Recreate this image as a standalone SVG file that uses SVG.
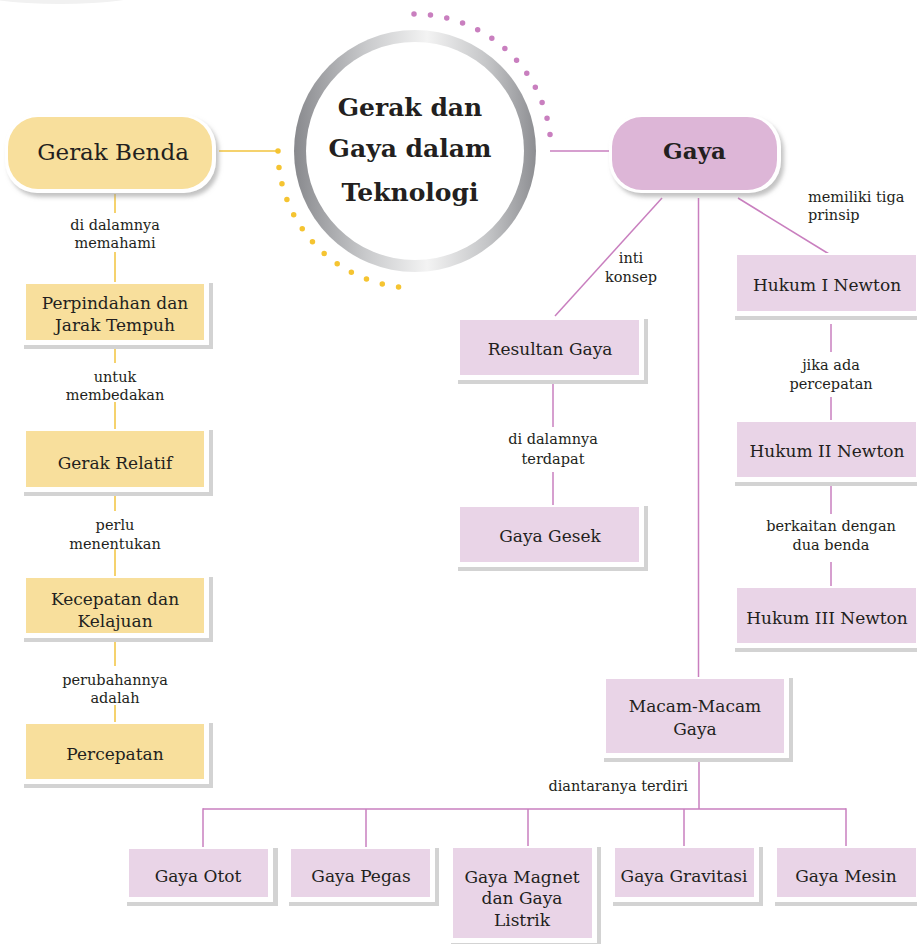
<svg xmlns="http://www.w3.org/2000/svg" width="917" height="944" viewBox="0 0 917 944">
<style>
  text { font-family: "DejaVu Serif", "Liberation Serif", serif; fill: #231f20; text-anchor: middle; }
  .box { font-size: 17px; }
  .lbl { font-size: 14.5px; }
  .big { font-size: 23px; }
  .bold { font-weight: bold; }
  .yl { stroke: #f2c33c; stroke-width: 1.5; fill: none; }
  .pl { stroke: #c97fbf; stroke-width: 1.5; fill: none; }
  .sh { fill: #d3d3d3; }
  .wh { fill: #ffffff; }
  .yf { fill: #f8df9c; }
  .pf { fill: #e9d4e7; }
</style>
<defs>
  <linearGradient id="ring" x1="0" y1="0" x2="1" y2="0">
    <stop offset="0" stop-color="#88898d"/>
    <stop offset="0.3" stop-color="#c9cacc"/>
    <stop offset="0.55" stop-color="#f3f3f3"/>
    <stop offset="0.8" stop-color="#c4c5c7"/>
    <stop offset="1" stop-color="#8d8e92"/>
  </linearGradient>
  <filter id="ds" x="-20%" y="-20%" width="140%" height="150%">
    <feDropShadow dx="3" dy="4" stdDeviation="2" flood-color="#9a9a9a" flood-opacity="0.6"/>
  </filter>
</defs>

<ellipse cx="60" cy="-8" rx="85" ry="12" fill="#f1f1f1"/>

<g id="connectors">
  <!-- center links -->
  <line class="yl" x1="219" y1="151" x2="278" y2="151"/>
  <line class="pl" x1="550" y1="151" x2="612" y2="151"/>
  <path d="M 278 151 A 137 137 0 0 0 414 288" fill="none" stroke="#f5c431" stroke-width="5.5" stroke-linecap="round" stroke-dasharray="0 16.55"/>
  <path d="M 414 14 A 137 137 0 0 1 551 151" fill="none" stroke="#c97fbf" stroke-width="5.5" stroke-linecap="round" stroke-dasharray="0 16.55"/>
  <!-- left column -->
  <line class="yl" x1="115" y1="194" x2="115" y2="213"/>
  <line class="yl" x1="115" y1="252" x2="115" y2="284"/>
  <line class="yl" x1="115" y1="347" x2="115" y2="363"/>
  <line class="yl" x1="115" y1="402" x2="115" y2="431"/>
  <line class="yl" x1="115" y1="491" x2="115" y2="511"/>
  <line class="yl" x1="115" y1="549" x2="115" y2="578"/>
  <line class="yl" x1="115" y1="640" x2="115" y2="666"/>
  <line class="yl" x1="115" y1="705" x2="115" y2="724"/>
  <!-- Gaya branches -->
  <line class="pl" x1="662" y1="198" x2="555" y2="316"/>
  <line class="pl" x1="738" y1="198" x2="829" y2="254"/>
  <line class="pl" x1="698.5" y1="198" x2="698.5" y2="679"/>
  <!-- middle column -->
  <line class="pl" x1="553" y1="380" x2="553" y2="427"/>
  <line class="pl" x1="553" y1="472" x2="553" y2="507"/>
  <!-- right column -->
  <line class="pl" x1="831" y1="324" x2="831" y2="352"/>
  <line class="pl" x1="831" y1="397" x2="831" y2="422"/>
  <line class="pl" x1="831" y1="485" x2="831" y2="514"/>
  <line class="pl" x1="831" y1="562" x2="831" y2="588"/>
  <!-- macam-macam tree -->
  <line class="pl" x1="699" y1="760" x2="699" y2="809"/>
  <line class="pl" x1="203" y1="809" x2="846" y2="809"/>
  <line class="pl" x1="203" y1="808.25" x2="203" y2="849"/>
  <line class="pl" x1="366" y1="809" x2="366" y2="849"/>
  <line class="pl" x1="528" y1="809" x2="528" y2="848"/>
  <line class="pl" x1="684" y1="809" x2="684" y2="848"/>
  <line class="pl" x1="846" y1="808.25" x2="846" y2="848"/>
  <!-- labels -->
  <text class="lbl" x="115" y="230">di dalamnya</text>
  <text class="lbl" x="115" y="248">memahami</text>
  <text class="lbl" x="115" y="382">untuk</text>
  <text class="lbl" x="115" y="400">membedakan</text>
  <text class="lbl" x="115" y="530">perlu</text>
  <text class="lbl" x="115" y="549">menentukan</text>
  <text class="lbl" x="115" y="685">perubahannya</text>
  <text class="lbl" x="115" y="703">adalah</text>
  <text class="lbl" x="631" y="263">inti</text>
  <text class="lbl" x="631" y="282">konsep</text>
  <text class="lbl" x="808" y="202" style="text-anchor:start">memiliki tiga</text>
  <text class="lbl" x="808" y="220" style="text-anchor:start">prinsip</text>
  <text class="lbl" x="553" y="444">di dalamnya</text>
  <text class="lbl" x="553" y="464">terdapat</text>
  <text class="lbl" x="831" y="370">jika ada</text>
  <text class="lbl" x="831" y="389">percepatan</text>
  <text class="lbl" x="831" y="531">berkaitan dengan</text>
  <text class="lbl" x="831" y="550">dua benda</text>
  <text class="lbl" x="688" y="791" style="text-anchor:end">diantaranya terdiri</text>
</g>

<g id="center">
  <circle cx="415" cy="151" r="121" fill="url(#ring)"/>
  <circle cx="415" cy="151" r="109" fill="#ffffff"/>
  <text class="bold" x="410" y="116" style="font-size:25px">Gerak dan</text>
  <text class="bold" x="410" y="157" style="font-size:25px">Gaya dalam</text>
  <text class="bold" x="410" y="201" style="font-size:25px">Teknologi</text>
</g>

<g id="gerak-benda">
  <rect x="5" y="115" width="211" height="78" rx="32" fill="#ffffff" filter="url(#ds)"/>
  <rect x="8" y="117" width="204" height="72" rx="30" class="yf"/>
  <text class="big" x="113" y="160">Gerak Benda</text>
</g>

<g id="gaya">
  <rect x="609" y="115" width="172" height="78" rx="32" fill="#ffffff" filter="url(#ds)"/>
  <rect x="612" y="117" width="165" height="73" rx="30" fill="#ddb6d7"/>
  <text class="big bold" x="694.5" y="159">Gaya</text>
</g>

<g id="perpindahan">
  <rect class="sh" x="24" y="283" width="189" height="66"/>
  <rect class="wh" x="24" y="282" width="185" height="63"/>
  <rect class="yf" x="26" y="284" width="178" height="56"/>
  <text class="box" x="115" y="309">Perpindahan dan</text>
  <text class="box" x="115" y="331">Jarak Tempuh</text>
</g>
<g id="gerak-relatif">
  <rect class="sh" x="24" y="430" width="189" height="66"/>
  <rect class="wh" x="24" y="429" width="185" height="63"/>
  <rect class="yf" x="26" y="431" width="178" height="56"/>
  <text class="box" x="115" y="469">Gerak Relatif</text>
</g>
<g id="kecepatan">
  <rect class="sh" x="24" y="577" width="189" height="65"/>
  <rect class="wh" x="24" y="576" width="185" height="62"/>
  <rect class="yf" x="26" y="578" width="178" height="55"/>
  <text class="box" x="115" y="605">Kecepatan dan</text>
  <text class="box" x="115" y="627">Kelajuan</text>
</g>
<g id="percepatan">
  <rect class="sh" x="24" y="723" width="189" height="65"/>
  <rect class="wh" x="24" y="722" width="185" height="62"/>
  <rect class="yf" x="26" y="724" width="178" height="55"/>
  <text class="box" x="115" y="760">Percepatan</text>
</g>

<g id="resultan">
  <rect class="sh" x="458" y="319" width="190" height="65"/>
  <rect class="wh" x="458" y="318" width="186" height="62"/>
  <rect class="pf" x="460" y="320" width="179" height="55"/>
  <text class="box" x="550" y="355">Resultan Gaya</text>
</g>
<g id="gaya-gesek">
  <rect class="sh" x="458" y="506" width="190" height="65"/>
  <rect class="wh" x="458" y="505" width="186" height="62"/>
  <rect class="pf" x="460" y="507" width="179" height="55"/>
  <text class="box" x="550" y="542">Gaya Gesek</text>
</g>

<g id="hukum1">
  <rect class="sh" x="735" y="254" width="190" height="66"/>
  <rect class="wh" x="735" y="253" width="186" height="63"/>
  <rect class="pf" x="737" y="255" width="179" height="56"/>
  <text class="box" x="827" y="291">Hukum I Newton</text>
</g>
<g id="hukum2">
  <rect class="sh" x="735" y="421" width="190" height="65"/>
  <rect class="wh" x="735" y="420" width="186" height="62"/>
  <rect class="pf" x="737" y="422" width="179" height="55"/>
  <text class="box" x="827" y="457">Hukum II Newton</text>
</g>
<g id="hukum3">
  <rect class="sh" x="735" y="587" width="190" height="65"/>
  <rect class="wh" x="735" y="586" width="186" height="62"/>
  <rect class="pf" x="737" y="588" width="179" height="55"/>
  <text class="box" x="827" y="624">Hukum III Newton</text>
</g>

<g id="macam-macam">
  <rect class="sh" x="604" y="678" width="189" height="84"/>
  <rect class="wh" x="604" y="677" width="185" height="81"/>
  <rect class="pf" x="606" y="679" width="178" height="74"/>
  <text class="box" x="695" y="712">Macam-Macam</text>
  <text class="box" x="695" y="735">Gaya</text>
</g>

<g id="gaya-otot">
  <rect class="sh" x="127" y="848" width="151" height="58"/>
  <rect class="wh" x="127" y="847" width="146" height="55"/>
  <rect class="pf" x="129" y="849" width="139" height="48"/>
  <text class="box" x="198" y="882">Gaya Otot</text>
</g>
<g id="gaya-pegas">
  <rect class="sh" x="289" y="848" width="150" height="58"/>
  <rect class="wh" x="289" y="847" width="146" height="55"/>
  <rect class="pf" x="291" y="849" width="139" height="48"/>
  <text class="box" x="361" y="882">Gaya Pegas</text>
</g>
<g id="gaya-magnet">
  <rect class="sh" x="451" y="847" width="150" height="100"/>
  <rect class="wh" x="451" y="846" width="146" height="97"/>
  <rect class="pf" x="453" y="848" width="139" height="90"/>
  <text class="box" x="522" y="883">Gaya Magnet</text>
  <text class="box" x="522" y="904">dan Gaya</text>
  <text class="box" x="522" y="926">Listrik</text>
</g>
<g id="gaya-gravitasi">
  <rect class="sh" x="613" y="847" width="150" height="59"/>
  <rect class="wh" x="613" y="846" width="146" height="56"/>
  <rect class="pf" x="615" y="848" width="139" height="49"/>
  <text class="box" x="684" y="882">Gaya Gravitasi</text>
</g>
<g id="gaya-mesin">
  <rect class="sh" x="775" y="847" width="150" height="59"/>
  <rect class="wh" x="775" y="846" width="146" height="56"/>
  <rect class="pf" x="777" y="848" width="139" height="49"/>
  <text class="box" x="846" y="882">Gaya Mesin</text>
</g>
</svg>
